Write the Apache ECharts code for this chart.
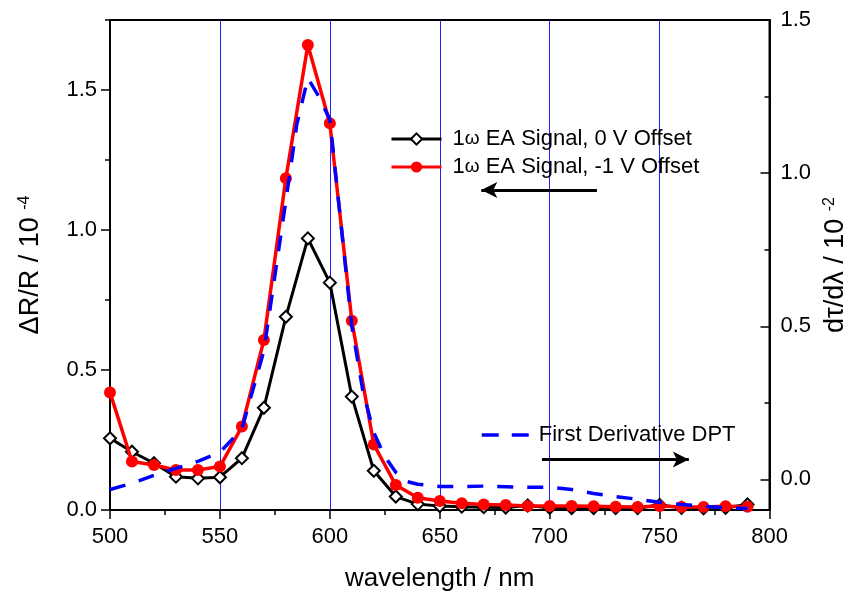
<!DOCTYPE html>
<html>
<head>
<meta charset="utf-8">
<script src="https://cdn.jsdelivr.net/npm/echarts@6/dist/echarts.min.js"></script>
<style>html,body{margin:0;padding:0;background:#fff}#c{width:857px;height:599px}</style>
</head>
<body>
<div id="c"></div>
<script>
// ---- data ----
var wavelengths = [500,510,520,530,540,550,560,570,580,590,600,610,620,630,640,650,660,670,680,690,700,710,720,730,740,750,760,770,780,790];
var ea0V = [0.256,0.208,0.167,0.119,0.113,0.117,0.185,0.365,0.69,0.97,0.812,0.405,0.14,0.048,0.021,0.014,0.012,0.010,0.009,0.016,0.008,0.007,0.007,0.007,0.007,0.018,0.008,0.006,0.008,0.02];
var eaMinus1V = [0.42,0.173,0.161,0.143,0.143,0.155,0.298,0.607,1.185,1.661,1.381,0.676,0.234,0.089,0.044,0.032,0.024,0.020,0.018,0.014,0.014,0.014,0.013,0.012,0.011,0.014,0.011,0.011,0.013,0.012];
var dptX = [500,510,520,530,540,550,560,570,580,585,590,595,600,610,615,620,625,630,635,640,650,660,670,680,690,700,710,720,730,740,750,760,770,780,790];
var dptY = [-0.033,-0.013,0.013,0.036,0.059,0.088,0.165,0.42,0.91,1.16,1.31,1.25,1.175,0.50,0.29,0.153,0.075,0.023,-0.007,-0.016,-0.023,-0.024,-0.022,-0.024,-0.026,-0.026,-0.033,-0.046,-0.056,-0.065,-0.075,-0.082,-0.088,-0.093,-0.095];
var leftMajor = [0, 0.5, 1.0, 1.5];
var leftMinor = [0.25, 0.75, 1.25, 1.75];
var rightMajor = [0, 0.5, 1.0, 1.5];
var rightMinor = [0.25, 0.75, 1.25];
var leftArrow = [[721.5, 1.143], [668.9, 1.143]];
var rightArrow = [[696.5, 0.065], [763.3, 0.065]];
var names = ['1ω EA Signal, 0 V Offset', '1ω EA Signal, -1 V Offset', 'First Derivative DPT'];

function pairs(xs, ys){ return xs.map(function(x,i){ return [x, ys[i]]; }); }

var FONT = '"Liberation Sans", Arial, sans-serif';
var chart = echarts.init(document.getElementById('c'), null, {renderer:'canvas'});

var legendFmt = function(n){ return n.replace('ω', '{w|ω}'); };
function legendText(pad){
  return {fontFamily: FONT, fontSize: 22, color: '#000', padding:[0,0,0,pad], rich:{w:{fontFamily: FONT, fontSize: 19, color:'#000'}}};
}

var yTitleRich = {
  sup: {fontFamily: FONT, fontSize: 16, color:'#000', verticalAlign:'top', lineHeight: 14}
};

function arrowLine(pts){
  return {
    silent: true, symbol: ['none', 'arrow'], symbolSize: [12, 16],
    label: {show: false},
    itemStyle: {color: '#000'},
    lineStyle: {color: '#000', width: 3, type: 'solid'},
    emphasis: {disabled: true},
    data: [[{coord: pts[0], symbol: 'none'}, {coord: pts[1], symbol: 'arrow', symbolSize: [12, 16], itemStyle: {color: '#000'}}]]
  };
}

chart.setOption({
  animation: false,
  backgroundColor: '#fff',
  textStyle: {fontFamily: FONT},
  grid: {left: 110, right: 86, top: 20, bottom: 89, show: true, borderColor: '#000', borderWidth: 2, backgroundColor: 'transparent'},
  legend: [
    {data: [names[0], names[1]], orient: 'vertical', left: 390, top: 128, padding: 0, itemGap: 6, itemWidth: 50, itemHeight: 14,
     lineStyle: {width: 3},
     formatter: legendFmt, textStyle: legendText(6)},
    {data: [names[2]], orient: 'vertical', left: 480, top: 424, padding: 0, itemWidth: 48, itemHeight: 14,
     itemStyle: {color: 'transparent', borderColor: 'transparent', borderWidth: 0},
     lineStyle: {width: 3.5, type: [17, 13]},
     formatter: legendFmt, textStyle: legendText(4)}
  ],
  xAxis: [{
    type: 'value', min: 500, max: 800, interval: 50,
    name: 'wavelength / nm', nameLocation: 'middle', nameGap: 56,
    nameTextStyle: {fontFamily: FONT, fontSize: 26, color: '#000'},
    axisLine: {show: true, onZero: false, lineStyle: {color: '#000', width: 2}},
    axisTick: {show: true, inside: false, length: 9, lineStyle: {color: '#000', width: 1.5}},
    minorTick: {show: true, splitNumber: 2, length: 5, lineStyle: {color: '#000', width: 1.5}},
    axisLabel: {fontFamily: FONT, fontSize: 22, color: '#000', margin: 16},
    splitLine: {show: true, lineStyle: {color: '#2020ff', width: 1}}
  }],
  yAxis: [
    {
      type: 'value', position: 'left', min: 0, max: 1.75,
      name: 'ΔR/R / 10 {sup|-4}', nameLocation: 'middle', nameRotate: 90, nameGap: 66,
      nameTextStyle: {fontFamily: FONT, fontSize: 27, color: '#000', rich: yTitleRich},
      axisLine: {show: true, onZero: false, lineStyle: {color: '#000', width: 2}},
      axisTick: {show: true, inside: false, length: 9, customValues: leftMajor, lineStyle: {color: '#000', width: 1.5}},
      axisLabel: {fontFamily: FONT, fontSize: 22, color: '#000', margin: 13, customValues: leftMajor,
        formatter: function(v){ return v.toFixed(1); }},
      splitLine: {show: false}
    },
    {
      type: 'value', position: 'right', min: -0.1, max: 1.5,
      name: 'dτ/dλ / 10 {sup|-2}', nameLocation: 'middle', nameRotate: 90, nameGap: 50,
      nameTextStyle: {fontFamily: FONT, fontSize: 27, color: '#000', rich: yTitleRich},
      axisLine: {show: true, onZero: false, lineStyle: {color: '#000', width: 2}},
      axisTick: {show: true, inside: true, length: 9, customValues: rightMajor, lineStyle: {color: '#000', width: 1.5}},
      axisLabel: {fontFamily: FONT, fontSize: 22, color: '#000', margin: 11, customValues: rightMajor,
        formatter: function(v){ return v.toFixed(1); }},
      splitLine: {show: false}
    },
    {
      type: 'value', position: 'left', min: 0, max: 1.75,
      axisLine: {show: false},
      axisTick: {show: true, inside: false, length: 5, customValues: leftMinor, lineStyle: {color: '#000', width: 1.5}},
      axisLabel: {show: false},
      splitLine: {show: false}
    },
    {
      type: 'value', position: 'right', min: -0.1, max: 1.5,
      axisLine: {show: false},
      axisTick: {show: true, inside: true, length: 5, customValues: rightMinor, lineStyle: {color: '#000', width: 1.5}},
      axisLabel: {show: false},
      splitLine: {show: false}
    }
  ],
  series: [
    {
      name: names[0], type: 'line', xAxisIndex: 0, yAxisIndex: 0,
      data: pairs(wavelengths, ea0V),
      symbol: 'diamond', symbolSize: 12, showSymbol: true,
      lineStyle: {color: '#000', width: 3},
      itemStyle: {color: '#fff', borderColor: '#000', borderWidth: 2},
      z: 2,
      markLine: arrowLine(leftArrow)
    },
    {
      name: names[1], type: 'line', xAxisIndex: 0, yAxisIndex: 0,
      data: pairs(wavelengths, eaMinus1V),
      symbol: 'circle', symbolSize: 12, showSymbol: true,
      lineStyle: {color: '#ff0000', width: 3.5},
      itemStyle: {color: '#ff0000', borderColor: '#ff0000', borderWidth: 0},
      z: 3
    },
    {
      name: names[2], type: 'line', xAxisIndex: 0, yAxisIndex: 1,
      data: pairs(dptX, dptY),
      showSymbol: false, symbol: 'none',
      lineStyle: {color: '#0000ff', width: 3.5, type: [16, 14]},
      itemStyle: {color: '#0000ff'},
      z: 4,
      markLine: arrowLine(rightArrow)
    }
  ]
});
</script>
</body>
</html>
